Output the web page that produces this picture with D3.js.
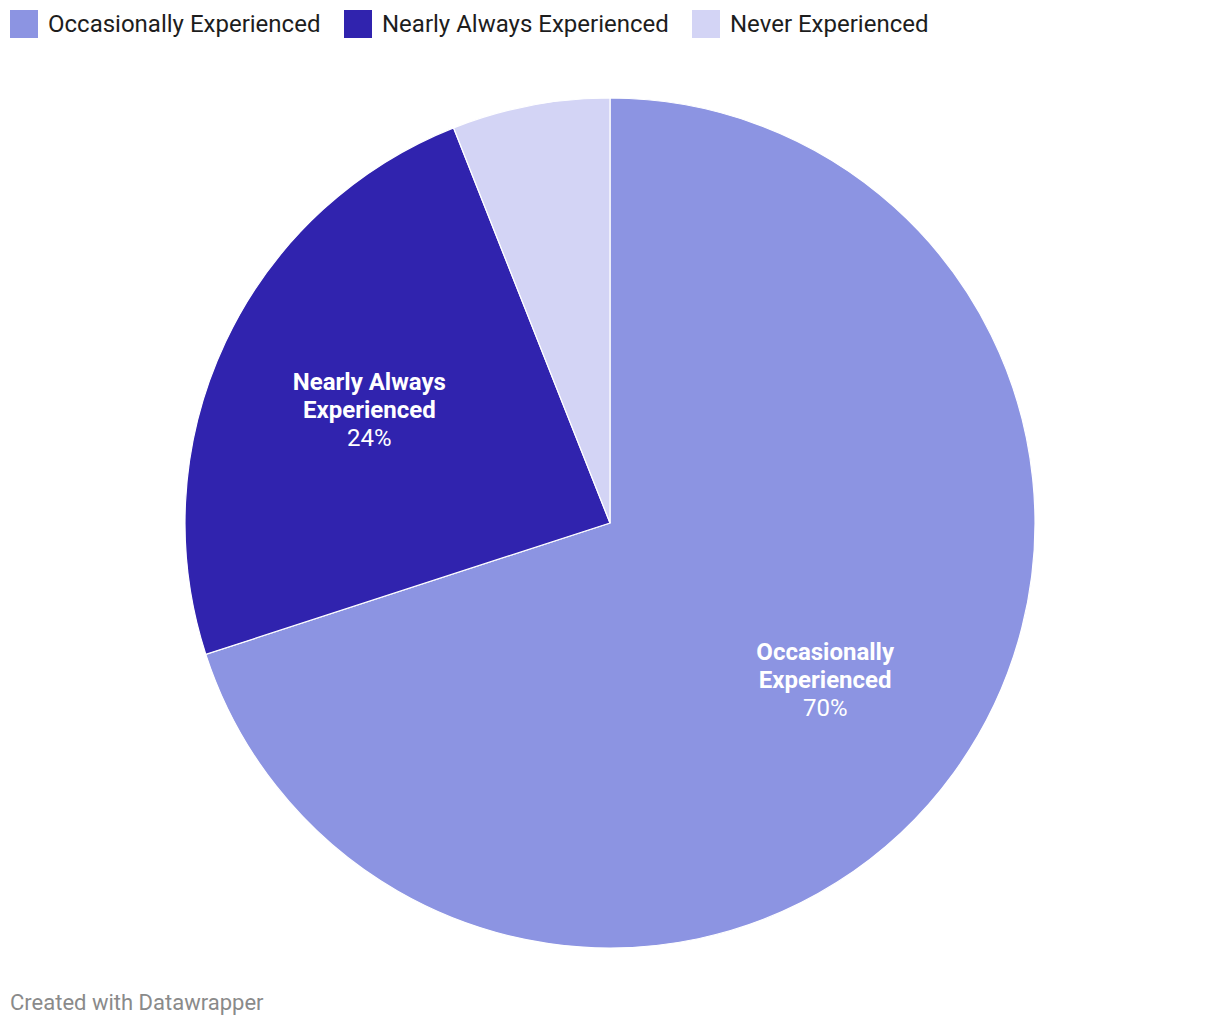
<!DOCTYPE html>
<html>
<head>
<meta charset="utf-8">
<script src="https://cdn.jsdelivr.net/npm/d3@7"></script>
<style>
  html, body { margin: 0; padding: 0; background: #fff; }
  svg { display: block; font-family: Roboto, "Noto Sans", sans-serif; }
</style>
</head>
<body>
<svg id="chart" width="1220" height="1026"></svg>
<script>
const categories = ["Occasionally Experienced", "Nearly Always Experienced", "Never Experienced"];
const labelLines = [["Occasionally", "Experienced"], ["Nearly Always", "Experienced"], ["Never", "Experienced"]];
const values = [70, 24, 6];
const colors = ["#8c94e2", "#3023ae", "#d3d4f5"];
const showLabel = [true, true, false];

const svg = d3.select("#chart");
const cx = 610, cy = 523, R = 425;

// Legend
const legendX = [10, 344, 692];
const legend = svg.append("g");
categories.forEach((c, i) => {
  const g = legend.append("g").attr("transform", `translate(${legendX[i]},10)`);
  g.append("rect").attr("width", 28).attr("height", 28).attr("fill", colors[i]);
  g.append("text").attr("x", 38).attr("y", 14).attr("dy", "0.35em")
    .attr("font-size", 24).attr("fill", "#1d1d1d").text(c);
});

const pie = d3.pie().sort(null).value(d => d)(values);
const arc = d3.arc().innerRadius(0).outerRadius(R);
const labelArc = d3.arc().innerRadius(266).outerRadius(266);

const g = svg.append("g").attr("transform", `translate(${cx},${cy})`);
g.selectAll("path").data(pie).join("path")
  .attr("d", arc)
  .attr("fill", (d, i) => colors[i])
  .attr("stroke", "#fff")
  .attr("stroke-width", 1.2);

pie.forEach((d, i) => {
  if (!showLabel[i]) return;
  const [x, y] = labelArc.centroid(d);
  const t = g.append("text").attr("text-anchor", "middle").attr("fill", "#fff").attr("font-size", 24);
  const lines = labelLines[i];
  const total = lines.length + 1;
  const lh = 28;
  const y0 = y - (total - 1) * lh / 2;
  lines.forEach((l, k) => {
    t.append("tspan").attr("x", x).attr("y", y0 + k * lh).attr("dy", "0.35em")
      .attr("font-weight", 700).text(l);
  });
  t.append("tspan").attr("x", x).attr("y", y0 + lines.length * lh).attr("dy", "0.35em")
    .attr("font-weight", 400).text(values[i] + "%");
});

svg.append("text").attr("x", 10).attr("y", 1002).attr("dy", "0.35em")
  .attr("font-size", 22).attr("fill", "#8a8a8a").text("Created with Datawrapper");
</script>
</body>
</html>
